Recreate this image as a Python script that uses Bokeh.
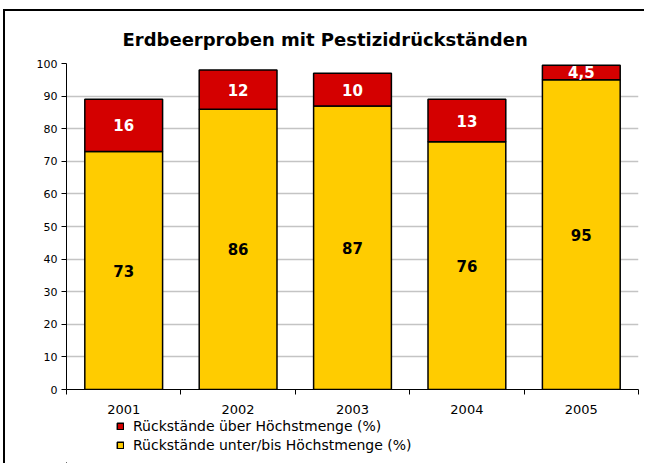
from bokeh.plotting import figure
from bokeh.layouts import column
from bokeh.models import (Range1d, FixedTicker, ColumnDataSource, Legend, LegendItem, LabelSet)
from bokeh.core.properties import value
from bokeh.embed import file_html
from bokeh.resources import INLINE

years = ["2001", "2002", "2003", "2004", "2005"]
below_limit = [73, 86, 87, 76, 95]      # Rückstände unter/bis Höchstmenge (%)
above_limit = [16, 12, 10, 13, 4.5]     # Rückstände über Höchstmenge (%)
y_ticks = [0, 10, 20, 30, 40, 50, 60, 70, 80, 90, 100]

title = "Erdbeerproben mit Pestizidrückständen"
label_above = "Rückstände über Höchstmenge (%)"
label_below = "Rückstände unter/bis Höchstmenge (%)"

FONT = "DejaVu Sans"
RED = "#d40000"
YELLOW = "#ffcc00"
W = 642

xs = [i + 0.5 for i in range(len(years))]
tops = [b + a for b, a in zip(below_limit, above_limit)]
fmt = lambda v: f"{v:g}".replace(".", ",")

src = ColumnDataSource(dict(
    x=xs,
    below=below_limit,
    above=above_limit,
    top=tops,
    below_mid=[b / 2 for b in below_limit],
    above_mid=[b + a / 2 for b, a in zip(below_limit, above_limit)],
    below_txt=[fmt(v) for v in below_limit],
    above_txt=[fmt(v) for v in above_limit],
))

p = figure(width=W, height=405, output_backend="svg", toolbar_location=None,
           x_range=Range1d(0, len(years)), y_range=Range1d(0, 100),
           min_border_left=61, min_border_right=9, min_border_top=52, min_border_bottom=27)
p.outline_line_color = None
p.background_fill_color = "white"
p.border_fill_color = "white"

p.title.text = title
p.title.text_font = FONT
p.title.text_font_size = "18px"
p.title.text_font_style = "bold"
p.title.text_color = "black"
p.title.align = "left"
p.title.offset = 56
p.title.standoff = 28

bar_style = dict(width=0.68, line_color="black", line_width=1.5)
rb = p.vbar(x="x", bottom=0, top="below", source=src, fill_color=YELLOW, **bar_style)
ra = p.vbar(x="x", bottom="below", top="top", source=src, fill_color=RED, **bar_style)

p.add_layout(LabelSet(x="x", y="below_mid", text="below_txt", source=src,
                      text_align="center", text_baseline="middle",
                      text_font=value(FONT), text_font_style="bold", text_font_size="15px",
                      text_color="black"))
p.add_layout(LabelSet(x="x", y="above_mid", text="above_txt", source=src,
                      text_align="center", text_baseline="middle",
                      text_font=value(FONT), text_font_style="bold", text_font_size="15px",
                      text_color="white"))

# grid
p.xgrid.visible = False
p.ygrid.ticker = FixedTicker(ticks=y_ticks)
p.ygrid.grid_line_color = "#c4c4c4"
p.ygrid.grid_line_width = 1.5

# y axis
p.yaxis.ticker = FixedTicker(ticks=y_ticks)
p.yaxis.axis_line_color = "black"
p.yaxis.major_tick_out = 5
p.yaxis.major_tick_in = 0
p.yaxis.minor_tick_line_color = None
p.yaxis.major_label_text_font = FONT
p.yaxis.major_label_text_font_size = "11px"
p.yaxis.major_label_text_color = "black"
p.yaxis.major_label_standoff = 4

# x axis: labels at centres, ticks between categories
p.xaxis.ticker = FixedTicker(ticks=xs, minor_ticks=list(range(len(years) + 1)))
p.xaxis.major_label_overrides = {x: y for x, y in zip(xs, years)}
p.xaxis.major_tick_line_color = None
p.xaxis.major_tick_out = 0
p.xaxis.major_tick_in = 0
p.xaxis.minor_tick_out = 5
p.xaxis.minor_tick_in = 0
p.xaxis.minor_tick_line_color = "black"
p.xaxis.axis_line_color = "black"
p.xaxis.major_label_text_font = FONT
p.xaxis.major_label_text_font_size = "13px"
p.xaxis.major_label_text_color = "black"
p.xaxis.major_label_standoff = 10

# legend strip below the chart (its bars lie outside its view; only the legend shows)
lg = figure(width=W, height=47, output_backend="svg", toolbar_location=None,
            x_range=Range1d(1000, 1001), y_range=Range1d(1000, 1001),
            x_axis_location=None, y_axis_location=None,
            min_border_left=0, min_border_right=0, min_border_top=0, min_border_bottom=0)
lg.grid.visible = False
lg.outline_line_color = None
la = lg.vbar(x="x", bottom="below", top="top", source=src, fill_color=RED, **bar_style)
lb = lg.vbar(x="x", bottom=0, top="below", source=src, fill_color=YELLOW, **bar_style)

legend = Legend(items=[LegendItem(label=label_above, renderers=[la]),
                       LegendItem(label=label_below, renderers=[lb])],
                location=(50, 10), orientation="vertical",
                glyph_width=8, glyph_height=8, label_standoff=9, spacing=3,
                padding=0, margin=0, border_line_color=None, background_fill_alpha=0,
                label_text_font=FONT, label_text_font_size="14px",
                label_height=15, label_text_color="black")
lg.add_layout(legend)

layout = column(p, lg, spacing=0,
                styles={"border-style": "solid none none solid", "border-width": "2px",
                        "border-color": "black", "overflow": "hidden",
                        "outline": "none", "box-shadow": "none",
                        "clip-path": "inset(0px 3px 0px 0px)",
                        "margin-left": "3px", "margin-top": "9px"})
open("out.html", "w").write(file_html(layout, INLINE))
